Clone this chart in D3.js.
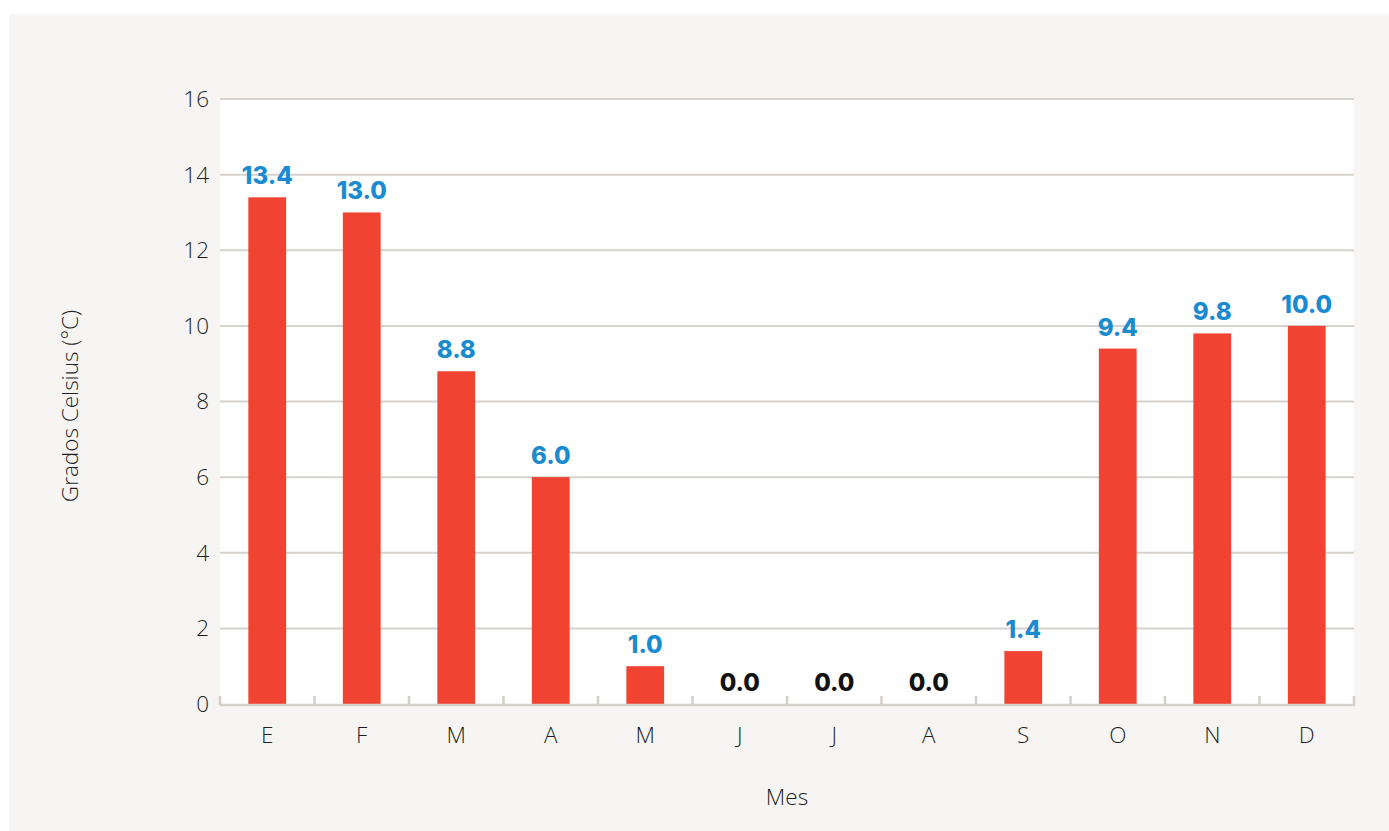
<!DOCTYPE html>
<html>
<head>
<meta charset="utf-8">
<script src="https://cdn.jsdelivr.net/npm/d3@7"></script>
<style>
  html, body { margin: 0; padding: 0; background: #ffffff; }
  svg { display: block; }
</style>
</head>
<body>
<div id="chart"></div>
<script>
// data
const months = ['E', 'F', 'M', 'A', 'M', 'J', 'J', 'A', 'S', 'O', 'N', 'D'];
const temps = [13.4, 13.0, 8.8, 6.0, 1.0, 0.0, 0.0, 0.0, 1.4, 9.4, 9.8, 10.0];
const yTicks = [0, 2, 4, 6, 8, 10, 12, 14, 16];

const width = 1389, height = 831;
const margin = { top: 99, right: 35, bottom: 127, left: 220 };
const labelFont = '"Open Sans", Lato, sans-serif';

const svg = d3.select('#chart')
    .append('svg')
    .attr('width', width)
    .attr('height', height);

// panel background
svg.append('rect')
    .attr('x', 9).attr('y', 14)
    .attr('width', width - 9).attr('height', height - 14)
    .attr('fill', '#f6f5f3');

const x = d3.scaleBand()
    .domain(d3.range(months.length))
    .range([margin.left, width - margin.right])
    .padding(0);

const y = d3.scaleLinear()
    .domain([0, 16])
    .range([height - margin.bottom, margin.top]);

// white plot area
svg.append('rect')
    .attr('x', margin.left).attr('y', margin.top)
    .attr('width', width - margin.right - margin.left)
    .attr('height', y(0) - margin.top)
    .attr('fill', '#ffffff');

// gridlines
svg.append('g')
    .selectAll('line')
    .data(yTicks.filter(d => d > 0))
    .join('line')
    .attr('x1', margin.left)
    .attr('x2', width - margin.right)
    .attr('y1', d => y(d))
    .attr('y2', d => y(d))
    .attr('stroke', '#d6d2cd')
    .attr('stroke-width', 2);

// y tick labels
svg.append('g')
    .selectAll('text')
    .data(yTicks)
    .join('text')
    .attr('x', margin.left - 11)
    .attr('y', d => y(d))
    .attr('dy', '0.35em')
    .attr('text-anchor', 'end')
    .attr('font-family', labelFont)
    .attr('font-weight', 300)
    .attr('font-size', 22.5)
    .attr('fill', '#1e1e1e')
    .text(d => d);

// bars
const barW = x.bandwidth() * 0.4;
svg.append('g')
    .selectAll('rect')
    .data(temps)
    .join('rect')
    .attr('x', (d, i) => x(i) + x.bandwidth() / 2 - barW / 2)
    .attr('y', d => y(d))
    .attr('width', barW)
    .attr('height', d => y(0) - y(d))
    .attr('fill', '#f04332');

// x axis line and inward ticks
const axis = svg.append('g');
axis.append('line')
    .attr('x1', margin.left)
    .attr('x2', width - margin.right + 1)
    .attr('y1', y(0) + 1)
    .attr('y2', y(0) + 1)
    .attr('stroke', '#d3cfca')
    .attr('stroke-width', 2.5);
axis.selectAll('.tick')
    .data(d3.range(months.length + 1))
    .join('line')
    .attr('class', 'tick')
    .attr('x1', i => (i < months.length ? x(i) : x(i - 1) + x.bandwidth()))
    .attr('x2', i => (i < months.length ? x(i) : x(i - 1) + x.bandwidth()))
    .attr('y1', y(0) + 1)
    .attr('y2', y(0) - 8)
    .attr('stroke', '#d3cfca')
    .attr('stroke-width', 2.5);

// month labels
svg.append('g')
    .selectAll('text')
    .data(months)
    .join('text')
    .attr('x', (d, i) => x(i) + x.bandwidth() / 2)
    .attr('y', 743)
    .attr('text-anchor', 'middle')
    .attr('font-family', labelFont)
    .attr('font-weight', 300)
    .attr('font-size', 22.5)
    .attr('fill', '#1e1e1e')
    .text(d => d);

// value labels
svg.append('g')
    .selectAll('text')
    .data(temps)
    .join('text')
    .attr('x', (d, i) => x(i) + x.bandwidth() / 2)
    .attr('y', d => y(d) - 13)
    .attr('text-anchor', 'middle')
    .attr('font-family', 'Inter, "Noto Sans", sans-serif')
    .attr('font-weight', 800)
    .attr('font-size', 24)
    .attr('fill', d => (d > 0 ? '#1a8bd0' : '#111'))
    .text(d => d.toFixed(1));

// axis titles
svg.append('text')
    .attr('x', (margin.left + width - margin.right) / 2)
    .attr('y', 805)
    .attr('text-anchor', 'middle')
    .attr('font-family', labelFont)
    .attr('font-weight', 300)
    .attr('font-size', 22.5)
    .attr('fill', '#1e1e1e')
    .text('Mes');

svg.append('text')
    .attr('transform', 'translate(78,406) rotate(-90)')
    .attr('text-anchor', 'middle')
    .attr('font-family', labelFont)
    .attr('font-weight', 300)
    .attr('font-size', 22.5)
    .attr('fill', '#1e1e1e')
    .text('Grados Celsius (°C)');
</script>
</body>
</html>
